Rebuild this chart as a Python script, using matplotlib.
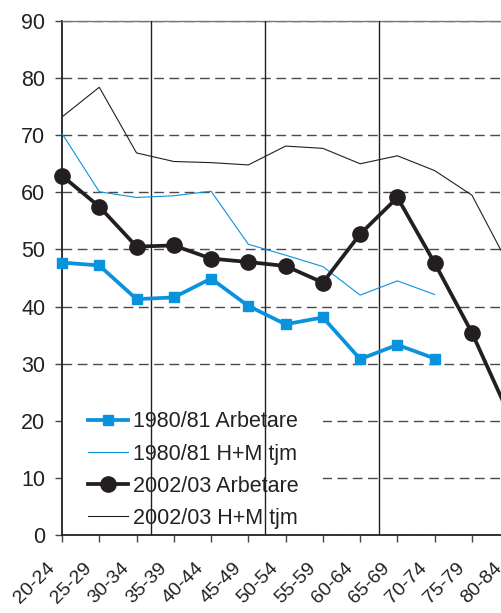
import numpy as np
import matplotlib
matplotlib.use("Agg")
import matplotlib.pyplot as plt
import matplotlib.transforms as mtransforms
from matplotlib.patches import Rectangle

plt.rcParams['font.family'] = ['Liberation Sans', 'DejaVu Sans']

# Age groups
age_groups = ["20-24", "25-29", "30-34", "35-39", "40-44", "45-49", "50-54",
              "55-59", "60-64", "65-69", "70-74", "75-79", "80-84"]

# Series values (percent)
arb_1980 = [47.7, 47.2, 41.3, 41.6, 44.9, 40.1, 36.9, 38.1, 30.8, 33.3, 30.9,
            np.nan, np.nan]
hm_1980 = [70.3, 60.1, 59.1, 59.4, 60.2, 50.9, 49.0, 47.0, 42.0, 44.5, 42.1,
           np.nan, np.nan]
arb_2002 = [62.9, 57.5, 50.5, 50.7, 48.4, 47.8, 47.1, 44.2, 52.7, 59.1, 47.6,
            35.4, 21.0]
hm_2002 = [73.2, 78.4, 66.9, 65.4, 65.2, 64.8, 68.1, 67.7, 65.0, 66.4, 63.8,
           59.5, 47.1]

series_labels = ["1980/81 Arbetare", "1980/81 H+M tjm",
                 "2002/03 Arbetare", "2002/03 H+M tjm"]

# Separator lines between age bands
separators = [2.39, 5.45, 8.50]

y_ticks = list(range(0, 91, 10))

BLUE = "#0a93dc"
DARK = "#231f20"
FS = 15.5
FS_X = 14

W, H = 502, 613
fig = plt.figure(figsize=(W / 100, H / 100), dpi=100)
step = 37.27
x_max = 12.5
ax = fig.add_axes([62 / W, 78 / H, x_max * step / W, 514 / H])

x = np.arange(len(age_groups))

ax.plot(x, arb_1980, color=BLUE, lw=2.7, marker="s", ms=7.5,
        label=series_labels[0], zorder=5, clip_on=False)
ax.plot(x, hm_1980, color=BLUE, lw=0.8, label=series_labels[1], zorder=4)
ax.plot(x, arb_2002, color=DARK, lw=2.7, marker="o", ms=11,
        label=series_labels[2], zorder=5, clip_on=False)
ax.plot(x, hm_2002, color=DARK, lw=0.8, label=series_labels[3], zorder=4)

for s in separators:
    ax.axvline(s, color=DARK, lw=1.0, zorder=3)

ax.set_xlim(0, x_max)
ax.set_ylim(0, 90)

# Horizontal dashed grid
ax.set_yticks(y_ticks)
ax.yaxis.grid(True, color="#4a4a4a", lw=1.0, linestyle=(0, (7, 4)))
ax.xaxis.grid(False)

# White area behind the legend
ax.add_patch(Rectangle((0, 0), (323 - 62) / step, 24.5, facecolor="white",
                       edgecolor="none", zorder=1.8))

ax.set_xticks(x)
ax.tick_params(axis="x", direction="out", length=5, width=1.0,
               color="#444", pad=12.5)
ax.tick_params(axis="y", direction="out", length=5, width=1.0,
               color="#444", pad=7, labelsize=FS, labelcolor="#222")
ax.set_xticklabels(age_groups, rotation=45, ha="right",
                   rotation_mode="anchor", fontsize=FS_X, color="#222")

# Nudge the rotated category labels to the left of their ticks
shift = mtransforms.ScaledTranslation(-16 / 100, 0, fig.dpi_scale_trans)
for lab in ax.get_xticklabels():
    lab.set_transform(lab.get_transform() + shift)

for side in ["left", "bottom"]:
    ax.spines[side].set_color("#222")
    ax.spines[side].set_linewidth(1.3)
ax.spines["top"].set_color("#777")
ax.spines["top"].set_linewidth(1.0)
ax.spines["right"].set_visible(False)

leg = ax.legend(loc="lower left", bbox_to_anchor=(26 / (x_max * step), 6 / 514),
                borderaxespad=0, borderpad=0, frameon=False, fontsize=FS,
                handlelength=1.85, handletextpad=0.25, labelspacing=0.52)
for t in leg.get_texts():
    t.set_color("#222")
leg.set_zorder(6)

fig.savefig("out.png", dpi=100)
